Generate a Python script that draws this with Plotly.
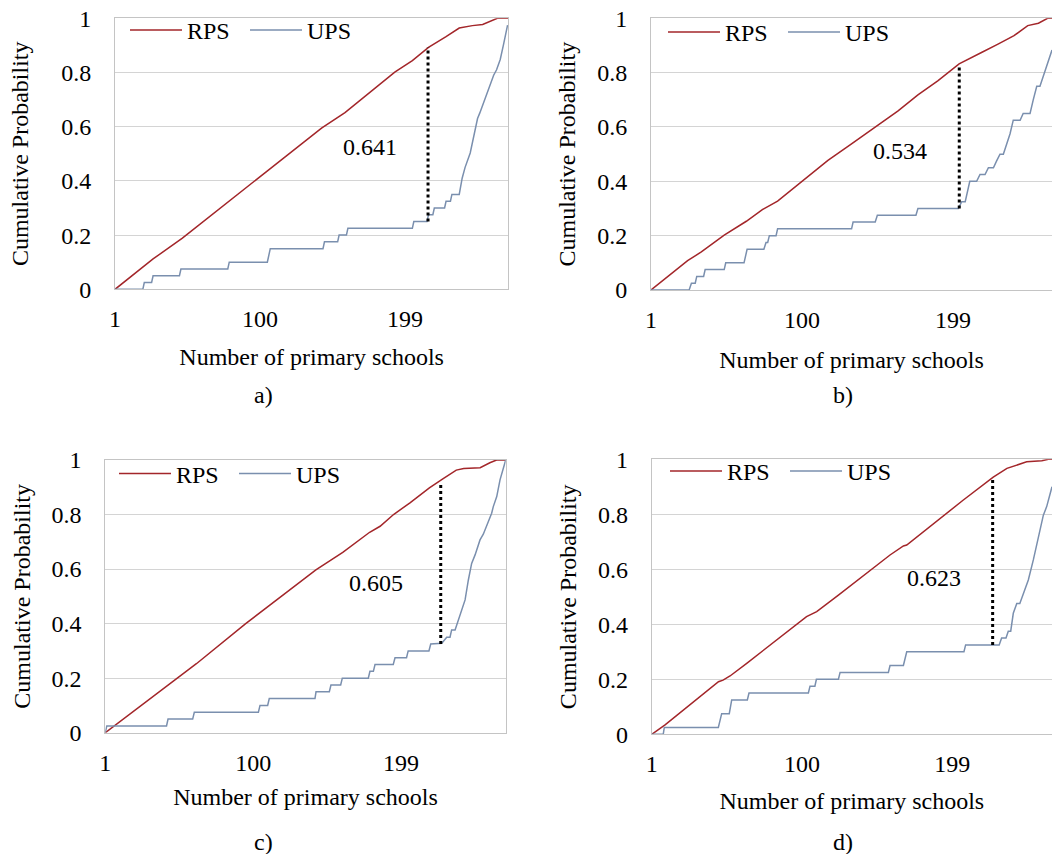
import plotly.graph_objects as go

# ---------------- data ----------------
x_ticks = [1, 100, 199]
y_ticks = [0, 0.2, 0.4, 0.6, 0.8, 1.0]

# panel a
rps_a_x = [1, 21, 27, 47, 78, 106, 142, 158, 192, 204, 215, 227, 236, 245, 252, 262, 269.5]
rps_a_y = [0, 0.087, 0.112, 0.189, 0.321, 0.442, 0.595, 0.652, 0.801, 0.844, 0.893, 0.932, 0.964, 0.973, 0.977, 1.0, 1.0]
ups_a_x = [1, 20, 21, 26, 27, 45, 46, 78, 79, 105, 107, 143, 144, 153, 154, 159, 160, 204, 205, 214, 215,
           218, 219, 226, 227, 230, 231, 236, 238, 240, 243.5, 246.5, 248.5, 250, 255, 257.5, 259.5, 261.5,
           264, 266.3, 269]
ups_a_y = [0, 0, 0.025, 0.025, 0.05, 0.05, 0.075, 0.075, 0.1, 0.1, 0.15, 0.15, 0.175, 0.175, 0.2, 0.2, 0.225,
           0.225, 0.25, 0.25, 0.275, 0.275, 0.3, 0.3, 0.325, 0.325, 0.35, 0.35, 0.41, 0.45, 0.503, 0.585, 0.63,
           0.65, 0.72, 0.755, 0.79, 0.81, 0.848, 0.905, 0.975]

# panel b
rps_b_x = [1, 25, 34, 49, 63.5, 74, 84, 100, 117, 132, 148, 163, 176, 189, 203, 209, 218, 228.5, 239, 248,
           255, 261, 264]
rps_b_y = [0, 0.108, 0.14, 0.202, 0.253, 0.296, 0.327, 0.401, 0.477, 0.536, 0.598, 0.659, 0.718, 0.77, 0.832,
           0.85, 0.875, 0.905, 0.936, 0.973, 0.982, 1.0, 1.0]
ups_b_x = [1, 26, 27.5, 30, 31, 35.5, 36.5, 49, 50, 62, 64, 75, 76.4, 77.5, 78.6, 83, 84, 132.5, 133.5, 148,
           149.4, 174.7, 176, 202.5, 204.7, 207, 210, 214.5, 216.7, 220, 222.2, 225.5, 227.6, 229.8, 232, 234.2,
           236.4, 238.5, 243, 245, 249.5, 251.6, 253.9, 256, 258.2, 260.4, 263.9]
ups_b_y = [0, 0, 0.025, 0.025, 0.05, 0.05, 0.075, 0.075, 0.1, 0.1, 0.15, 0.15, 0.175, 0.175, 0.2, 0.2, 0.225,
           0.225, 0.25, 0.25, 0.275, 0.275, 0.3, 0.3, 0.325, 0.325, 0.4, 0.4, 0.425, 0.425, 0.45, 0.45, 0.475,
           0.5, 0.5, 0.54, 0.575, 0.625, 0.625, 0.65, 0.65, 0.7, 0.75, 0.75, 0.785, 0.822, 0.883]

# panel c
rps_c_x = [1, 44, 62, 95, 111, 142, 160, 178, 185, 194, 205, 218, 227, 236, 241, 252, 258.5, 263, 269.1]
rps_c_y = [0, 0.176, 0.253, 0.4, 0.466, 0.597, 0.661, 0.735, 0.757, 0.8, 0.843, 0.898, 0.931, 0.963, 0.969,
           0.972, 0.99, 1.0, 1.0]
ups_c_x = [1, 2, 42, 43, 59.5, 60.6, 103.5, 104.6, 109.7, 110.8, 141.4, 142.1, 151, 152.1, 158.6, 159.7, 177.1,
           178.2, 180.5, 181.6, 193.8, 195, 202.7, 203.8, 217.7, 218.9, 226.3, 229.6, 231.8, 232.9, 235.2, 236.7,
           238.5, 239.7, 241.9, 244.1, 246.3, 248.6, 250.8, 251.9, 254.1, 257.5, 259.7, 260.8, 263.1, 265.3, 269.1]
ups_c_y = [0, 0.025, 0.025, 0.05, 0.05, 0.075, 0.075, 0.1, 0.1, 0.125, 0.125, 0.15, 0.15, 0.175, 0.175, 0.2,
           0.2, 0.225, 0.225, 0.25, 0.25, 0.275, 0.275, 0.3, 0.3, 0.325, 0.328, 0.35, 0.35, 0.377, 0.377, 0.401,
           0.425, 0.45, 0.487, 0.56, 0.621, 0.652, 0.695, 0.707, 0.728, 0.774, 0.805, 0.829, 0.866, 0.927, 1.0]

# panel d
rps_d_x = [1, 9.8, 45, 48, 52.6, 63.6, 103, 109.7, 124, 158, 166.8, 169, 206.3, 226, 235, 241.5, 248, 258,
           262.3, 264.7]
rps_d_y = [0, 0.034, 0.191, 0.197, 0.212, 0.258, 0.428, 0.446, 0.506, 0.652, 0.685, 0.688, 0.852, 0.935, 0.967,
           0.979, 0.991, 0.995, 1.0, 1.0]
ups_d_x = [1, 8.6, 9.3, 44.9, 47.1, 52.1, 53.7, 64, 65.1, 104.2, 105.3, 108.5, 109.5, 124, 125.1, 156.9, 158,
           166.8, 169, 206.7, 207.8, 229.9, 231.5, 234.4, 235.9, 237.5, 239.2, 241.5, 243.5, 246.9, 249.1, 252.4,
           255.7, 259, 261.2, 264.7]
ups_d_y = [0, 0, 0.025, 0.025, 0.075, 0.075, 0.125, 0.125, 0.15, 0.15, 0.175, 0.175, 0.2, 0.2, 0.225, 0.225,
           0.25, 0.25, 0.3, 0.3, 0.325, 0.325, 0.35, 0.35, 0.375, 0.375, 0.44, 0.476, 0.476, 0.531, 0.561, 0.634,
           0.719, 0.797, 0.828, 0.9]

# maximum distance (KS statistic) markers
ks_labels = ["0.641", "0.534", "0.605", "0.623"]
ks_x = [214.7, 203.1, 225.6, 225.6]
ks_lo = [0.25, 0.30, 0.325, 0.325]
ks_hi = [0.893, 0.83, 0.91, 0.931]
ks_label_x = [175, 164.5, 182.4, 186.9]
ks_label_y = [0.524, 0.512, 0.55, 0.567]

panel_names = ["a)", "b)", "c)", "d)"]
x_max = [269.5, 263.9, 269.1, 264.7]

# ---------------- styling / layout ----------------
FONT = "Liberation Serif, Times New Roman, Tinos, DejaVu Serif, serif"
RED = "#a3262a"
BLUE = "#7a8fae"
GRID = "#d4d4d4"
AXL = "#c4c4c4"

rps_x = [rps_a_x, rps_b_x, rps_c_x, rps_d_x]
rps_y = [rps_a_y, rps_b_y, rps_c_y, rps_d_y]
ups_x = [ups_a_x, ups_b_x, ups_c_x, ups_d_x]
ups_y = [ups_a_y, ups_b_y, ups_c_y, ups_d_y]

W, H = 1052, 854
# plot areas in pixels: (left, right, top, bottom)
areas = [(115, 508.3, 18.3, 289.3), (651, 1052, 18.3, 290), (105.3, 505.7, 460, 732.7), (651.7, 1052, 459.3, 734.3)]
ytitle_standoff = [25, 14, 14, 14]
xtitle_standoff = [17, 19, 13, 16]
ITEMW = 52
# x = left edge of the legend text "RPS", y = centre of the legend row (pixels)
legend_pos = [(187, 30.5), (725, 32.5), (176, 474), (727, 471.5)]
sub_label_pos = [(263, 395), (842.7, 395), (263, 842), (842.7, 841.7)]

fig = go.Figure()
layout = dict(
    width=W, height=H, margin=dict(l=0, r=0, t=0, b=0, autoexpand=False),
    paper_bgcolor="white", plot_bgcolor="white",
    font=dict(family=FONT, size=24, color="black"),
    showlegend=True, annotations=[],
)

for i in range(4):
    sfx = "" if i == 0 else str(i + 1)
    xa, ya = "x" + sfx, "y" + sfx
    lg = "legend" + sfx
    fig.add_trace(go.Scatter(x=rps_x[i], y=rps_y[i], mode="lines", name="RPS",
                             line=dict(color=RED, width=1.5), xaxis=xa, yaxis=ya, legend=lg))
    fig.add_trace(go.Scatter(x=ups_x[i], y=ups_y[i], mode="lines", name="UPS",
                             line=dict(color=BLUE, width=1.5), xaxis=xa, yaxis=ya, legend=lg))
    fig.add_trace(go.Scatter(x=[ks_x[i], ks_x[i]], y=[ks_lo[i], ks_hi[i]], mode="lines", showlegend=False,
                             line=dict(color="black", width=3, dash="3px,3px"), xaxis=xa, yaxis=ya))

    l, r, t, b = areas[i]
    layout["xaxis" + sfx] = dict(
        domain=[l / W, min(r / W, 1.0)], anchor=ya, range=[1, x_max[i]],
        tickvals=x_ticks, ticktext=[str(v) for v in x_ticks], ticks="", showgrid=False, zeroline=False,
        showline=True, linecolor=AXL, linewidth=1, mirror=True, automargin=False,
        ticklabelstandoff=8, tickfont=dict(family=FONT, size=24),
        title=dict(text="Number of primary schools", standoff=xtitle_standoff[i], font=dict(family=FONT, size=24)),
    )
    layout["yaxis" + sfx] = dict(
        domain=[1 - b / H, 1 - t / H], anchor=xa, range=[0, 1],
        tickvals=y_ticks, ticktext=["0", "0.2", "0.4", "0.6", "0.8", "1"], ticks="",
        showgrid=True, gridcolor=GRID, gridwidth=1, zeroline=False, automargin=False,
        showline=True, linecolor=AXL, linewidth=1, mirror=(i in (0, 2)),
        ticklabelstandoff=18, tickfont=dict(family=FONT, size=24),
        title=dict(text="Cumulative Probability", standoff=ytitle_standoff[i], font=dict(family=FONT, size=24)),
    )
    lx, ly = legend_pos[i]
    layout[lg] = dict(
        x=(lx - ITEMW - 10) / W, y=1 - ly / H, xanchor="left", yanchor="middle", xref="paper", yref="paper",
        orientation="h", bgcolor="rgba(0,0,0,0)", borderwidth=0, itemwidth=ITEMW,
        font=dict(family=FONT, size=24, color="black"), entrywidth=53, entrywidthmode="pixels",
        itemclick=False, itemdoubleclick=False,
    )
    layout["annotations"].append(dict(
        x=ks_label_x[i], y=ks_label_y[i], xref=xa, yref=ya, text=ks_labels[i], showarrow=False,
        font=dict(family=FONT, size=24, color="black"), xanchor="center", yanchor="middle"))
    sx, sy = sub_label_pos[i]
    layout["annotations"].append(dict(
        x=sx / W, y=1 - sy / H, xref="paper", yref="paper", text=panel_names[i], showarrow=False,
        font=dict(family=FONT, size=24, color="black"), xanchor="center", yanchor="middle"))

fig.update_layout(**layout)
fig.write_html("out.html")
